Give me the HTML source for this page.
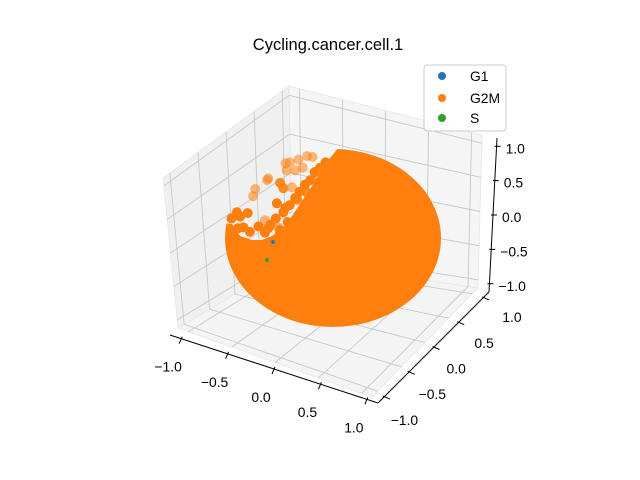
<!DOCTYPE html>
<html><head><meta charset="utf-8"><style>
body{margin:0;background:#fff}
svg{display:block;font-family:"Liberation Sans","DejaVu Sans",sans-serif}
</style></head><body>
<svg id="c" width="640" height="480" viewBox="0 0 640 480">
<rect width="640" height="480" fill="#fff"/>
<g id="panes"></g><g id="grid"></g>
<defs><clipPath id="cut"><polygon points="215,222 232,224 240,236 252,240 262,240 272,236 280,230 288,222 296,210 304,198 312,186 318,176 324,166 330,158 340,146 470,120 470,410 215,410"/></clipPath></defs>
<ellipse cx="333" cy="238" rx="108" ry="89" fill="#ff7f0e" clip-path="url(#cut)"/>
<g id="pts"></g>
<g id="axes"></g>
<text x="328" y="50" font-size="16.5" text-anchor="middle">Cycling.cancer.cell.1</text>
<g>
<rect x="424" y="65" width="82" height="66" rx="3" fill="#fff" fill-opacity="0.8" stroke="#ccc"/>
<circle cx="442" cy="76" r="4" fill="#1f77b4"/><text x="470" y="81" font-size="13.9">G1</text>
<circle cx="442" cy="98" r="4" fill="#ff7f0e"/><text x="470" y="103" font-size="13.9">G2M</text>
<circle cx="442" cy="118" r="4" fill="#2ca02c"/><text x="470" y="123" font-size="13.9">S</text>
</g>
</svg>
<script>
const ticks=[-1,-0.5,0,0.5,1];
const tickLabels=["\u22121.0","\u22120.5","0.0","0.5","1.0"];
const ptX=[-0.40,-0.32,-0.24,-0.19,-0.44,-0.43,-0.35,-0.28,-0.61,-0.60,-0.72,-0.74,-0.49,-0.46,-0.38,-0.52,-0.44,-0.33,-0.24,-0.89,-0.86,-0.79,-0.63,-0.60,-0.51,-0.83,-0.81,-0.74,-0.68,-0.56,-0.49,-0.19,-0.15,
 -0.94,-0.88,-0.77,-0.69,-0.63,-0.58,-0.53,-0.46,-0.40,-0.35,-0.31,-0.26,-0.21,-0.17,-0.12,-0.07,-0.42,-0.49];
const ptY=[0.85,0.88,0.92,0.91,0.84,0.76,0.76,0.79,0.65,0.67,0.55,0.47,0.62,0.56,0.57,0.39,0.34,0.43,0.51,0.29,0.24,0.28,0.20,0.11,0.12,0.12,-0.08,-0.08,-0.13,-0.06,0.06,0.65,0.74,
 0.22,0.11,0.07,0.13,0.06,0.15,0.22,0.29,0.37,0.45,0.52,0.60,0.65,0.74,0.79,0.85,0.18,0.09];
const ptA=[0.55,0.55,0.55,0.55,0.55,0.55,0.55,0.55,0.55,0.55,0.55,0.55,0.9,0.9,0.55,1,1,0.9,0.9,1,1,1,0.55,1,0.6,1,1,1,1,1,1,0.6,0.6,
 1,1,1,1,1,1,1,1,1,1,1,1,1,1,1,1,1,1];
const NS="http://www.w3.org/2000/svg";
const L=1.12;
const B={b00:[178,328],b10:[372,397],b11:[478,288],b01:[292,260],t00:[163,178],t10:[370,250],t11:[482,135],t01:[289,86]};
function lerp(a,b,t){return [a[0]+(b[0]-a[0])*t,a[1]+(b[1]-a[1])*t];}
function P(x,y,z){const u=(x+L)/(2*L),v=(y+L)/(2*L),w=(z+L)/(2*L);
 const b=lerp(lerp(B.b00,B.b10,u),lerp(B.b01,B.b11,u),v);
 const t=lerp(lerp(B.t00,B.t10,u),lerp(B.t01,B.t11,u),v);
 return lerp(b,t,w);}
function mk(tag,attrs,parent){const e=document.createElementNS(NS,tag);for(const k in attrs)e.setAttribute(k,attrs[k]);parent.appendChild(e);return e;}
const panes=document.getElementById('panes'),grid=document.getElementById('grid');
function poly(pts,fill,name){const e=mk('polygon',{points:pts.map(p=>p.join(',')).join(' '),fill:fill,stroke:'#e6e6e6','stroke-width':0.8},panes);

}
poly([P(-L,-L,-L),P(-L,L,-L),P(-L,L,L),P(-L,-L,L)],'#f0f0f0','left-pane');
poly([P(-L,L,-L),P(L,L,-L),P(L,L,L),P(-L,L,L)],'#f5f5f5','back-pane');
poly([P(-L,-L,-L),P(L,-L,-L),P(L,L,-L),P(-L,L,-L)],'#f4f4f4','floor-pane');
function line(a,b,col,w,parent,name){const e=mk('line',{x1:a[0],y1:a[1],x2:b[0],y2:b[1],stroke:col,'stroke-width':w},parent);

}
ticks.forEach(t=>{
 line(P(-L,t,-L),P(-L,t,L),'#c8c8c8',0.9,grid,'grid-line');
 line(P(-L,-L,t),P(-L,L,t),'#c8c8c8',0.9,grid,'grid-line');
 line(P(t,L,-L),P(t,L,L),'#c8c8c8',0.9,grid,'grid-line');
 line(P(-L,L,t),P(L,L,t),'#c8c8c8',0.9,grid,'grid-line');
 line(P(t,-L,-L),P(t,L,-L),'#c8c8c8',0.9,grid,'grid-line');
 line(P(-L,t,-L),P(L,t,-L),'#c8c8c8',0.9,grid,'grid-line');
});
const pts=document.getElementById('pts');
const cx=333,cy=238,rx=108,ry=89;
ptX.forEach((x,i)=>{const c=mk('circle',{cx:cx+rx*x,cy:cy-ry*ptY[i],r:5,fill:'#ff7f0e','fill-opacity':ptA[i]},pts);

});
const g1=mk('circle',{cx:273,cy:242,r:2,fill:'#1f77b4'},pts);


const s1=mk('circle',{cx:267,cy:260,r:2,fill:'#2ca02c'},pts);


const ax=document.getElementById('axes');
const xa0=[170,335],xa1=[378,403],ya1=[489,292],za1=[497,138];
line(xa0,xa1,'#000',1,ax,'x-axis-line');
line(xa1,ya1,'#000',1,ax,'y-axis-line');
line(ya1,za1,'#000',1,ax,'z-axis-line');
function txt(p,s,name,anchor){const e=mk('text',{x:p[0],y:p[1],'font-size':13.9,'text-anchor':anchor||'middle'},ax);e.textContent=s;

}
ticks.forEach((t,i)=>{
 const f=(t+L)/(2*L);
 const px=lerp(xa0,xa1,f);line([px[0]+1,px[1]-2],[px[0]-2,px[1]+5],'#000',1,ax,'x-tick');
 txt([px[0]-13,px[1]+33],tickLabels[i],'x-tick-label');
 const py=lerp(xa1,ya1,f);line([py[0]-1,py[1]-1],[py[0]+6,py[1]+2],'#000',1,ax,'y-tick');
 txt([py[0]+6+14*f,py[1]+28-4*f],tickLabels[i],'y-tick-label','start');
 const pz=lerp(ya1,za1,f);line([pz[0]-2,pz[1]],[pz[0]+4,pz[1]],'#000',1,ax,'z-tick');
 txt([pz[0]+9,pz[1]+7],tickLabels[i],'z-tick-label','start');
});
</script>
</body></html>
